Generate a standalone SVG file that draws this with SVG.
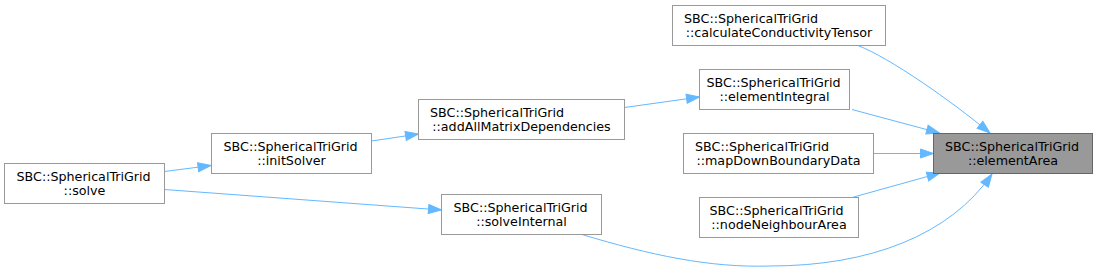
<svg xmlns="http://www.w3.org/2000/svg" width="1097" height="272" viewBox="0 0 1097 272">
<style>
.n rect{fill:#ffffff;stroke:#999999;stroke-width:1}
.n.hl rect{fill:#999999;stroke:#666666}
.n text{font-family:"DejaVu Sans",sans-serif;font-size:12.7px;fill:#000000}
.n text.c{text-anchor:middle}
.e path{fill:none;stroke:#63b8ff;stroke-width:1}
</style>
<defs>
<marker id="ah" markerUnits="userSpaceOnUse" markerWidth="16" markerHeight="12" viewBox="-1 -6 16 12" refX="13" refY="0" orient="auto">
<path d="M0,-4.5 L13,0 L0,4.5 Z" fill="#63b8ff" stroke="#63b8ff" stroke-width="1"/>
</marker>
</defs>
<rect width="1097" height="272" fill="#ffffff"/>
<g id="edges" class="e">
<path marker-end="url(#ah)" d="M164.5,171.5 L211,165.5"/>
<path marker-end="url(#ah)" d="M164.5,189.5 L441.5,210"/>
<path marker-end="url(#ah)" d="M371.5,141 L418.5,134"/>
<path marker-end="url(#ah)" d="M624.5,107.5 L699.5,97"/>
<path marker-end="url(#ah)" d="M858,45.5 C890,58 950,100 990,133"/>
<path marker-end="url(#ah)" d="M852,109.5 L939.5,133"/>
<path marker-end="url(#ah)" d="M873.5,153.5 L933.5,153.5"/>
<path marker-end="url(#ah)" d="M852,197.5 L940,173"/>
<path marker-end="url(#ah)" d="M582,234.5 C650,255 710,268 770,266 C870,266 950,235 992,174"/>
</g>
<g id="node-solve" class="n">
<rect x="4.5" y="163.5" width="160" height="40"/>
<text x="16.5" y="180.5">SBC::SphericalTriGrid</text>
<text class="c" x="84.5" y="194.5">::solve</text>
</g>
<g id="node-initSolver" class="n">
<rect x="211.5" y="133.5" width="160" height="40"/>
<text x="223.5" y="150.5">SBC::SphericalTriGrid</text>
<text class="c" x="291.5" y="164.5">::initSolver</text>
</g>
<g id="node-addAllMatrixDependencies" class="n">
<rect x="418.5" y="99.5" width="206" height="40"/>
<text x="430" y="116.5">SBC::SphericalTriGrid</text>
<text class="c" x="521.5" y="130.5">::addAllMatrixDependencies</text>
</g>
<g id="node-calculateConductivityTensor" class="n">
<rect x="672.5" y="5.5" width="213" height="40"/>
<text x="684" y="22.5">SBC::SphericalTriGrid</text>
<text class="c" x="779" y="36.5">::calculateConductivityTensor</text>
</g>
<g id="node-elementIntegral" class="n">
<rect x="699.5" y="69.5" width="150" height="40"/>
<text x="706.5" y="86.5">SBC::SphericalTriGrid</text>
<text class="c" x="774.5" y="100.5">::elementIntegral</text>
</g>
<g id="node-mapDownBoundaryData" class="n">
<rect x="683.5" y="133.5" width="190" height="40"/>
<text x="695" y="150.5">SBC::SphericalTriGrid</text>
<text class="c" x="778.5" y="164.5">::mapDownBoundaryData</text>
</g>
<g id="node-nodeNeighbourArea" class="n">
<rect x="699.5" y="197.5" width="159" height="40"/>
<text x="709.5" y="214.5">SBC::SphericalTriGrid</text>
<text class="c" x="779" y="228.5">::nodeNeighbourArea</text>
</g>
<g id="node-solveInternal" class="n">
<rect x="441.5" y="194.5" width="160" height="40"/>
<text x="453.5" y="211.5">SBC::SphericalTriGrid</text>
<text class="c" x="521.5" y="225.5">::solveInternal</text>
</g>
<g id="node-elementArea" class="n hl">
<rect x="933.5" y="133.5" width="159" height="40"/>
<text x="945" y="150.5">SBC::SphericalTriGrid</text>
<text class="c" x="1013" y="164.5">::elementArea</text>
</g>
</svg>
